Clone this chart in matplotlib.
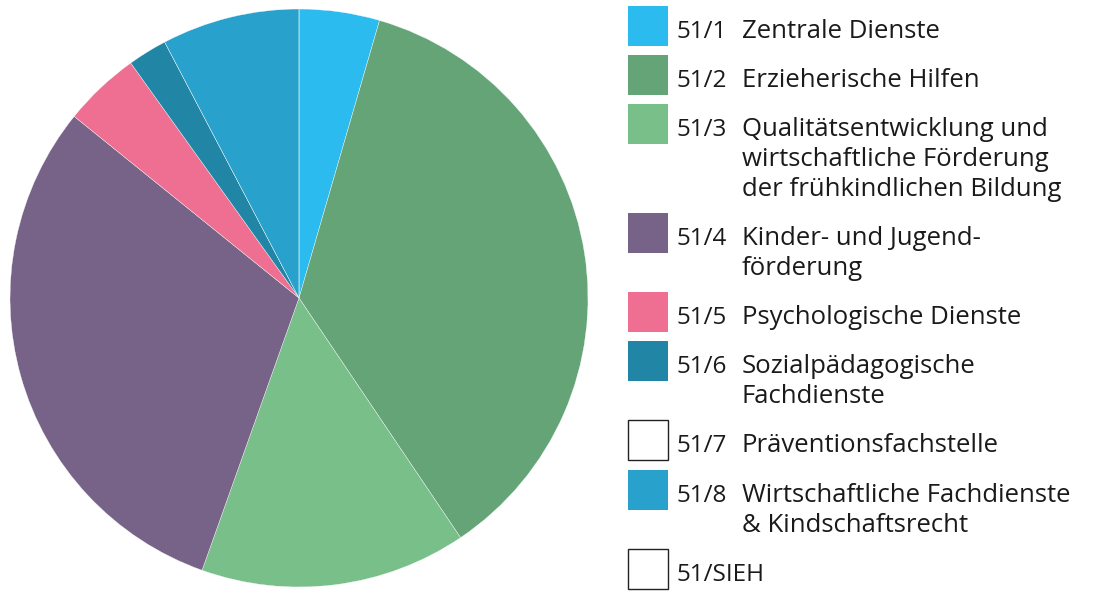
import matplotlib.pyplot as plt
from matplotlib.patches import Rectangle

codes = ['51/1', '51/2', '51/3', '51/4', '51/5', '51/6', '51/7', '51/8', '51/SIEH']
labels = ['Zentrale Dienste',
          'Erzieherische Hilfen',
          'Qualitätsentwicklung und\nwirtschaftliche Förderung\nder frühkindlichen Bildung',
          'Kinder- und Jugend-\nförderung',
          'Psychologische Dienste',
          'Sozialpädagogische\nFachdienste',
          'Präventionsfachstelle',
          'Wirtschaftliche Fachdienste\n& Kindschaftsrecht',
          '']
shares = [4.5, 36.1, 14.9, 30.4, 4.3, 2.2, 0.0, 7.7, 0.0]
colors = ['#2bbbee', '#65a477', '#78bf8a', '#776387', '#ee6f92',
          '#2185a6', '#ffffff', '#28a2cc', '#ffffff']

W, H = 1097, 591
fig = plt.figure(figsize=(W / 100, H / 100), dpi=100)

# pie, pixel box: left 10, top 9, size 578
ax = fig.add_axes([10 / W, 1 - (9 + 578) / H, 578 / W, 578 / H])
ax.pie(shares, colors=colors, startangle=90, counterclock=False, radius=1,
       wedgeprops=dict(edgecolor='white', linewidth=0.25))
ax.set_xlim(-1, 1)
ax.set_ylim(-1, 1)
ax.set_aspect('equal')
ax.axis('off')

# legend drawn by hand
font = 'Open Sans'
fs = 18.5
top = 6
for code, lab, col in zip(codes, labels, colors):
    lines = lab.split('\n') if lab else ['']
    outline = col == '#ffffff'
    fig.add_artist(Rectangle((628 / W, 1 - (top + 40) / H), 40 / W, 40 / H,
                             transform=fig.transFigure,
                             facecolor=col,
                             edgecolor='#222222' if outline else col,
                             linewidth=1.0 if outline else 0))
    base = top + 32
    fig.text(676 / W, 1 - base / H, code, fontsize=17.5, family=font,
             color='#1a1a1a', va='baseline', ha='left')
    for i, ln in enumerate(lines):
        fig.text(742 / W, 1 - (base + 30 * i) / H, ln, fontsize=fs,
                 family=font, color='#1a1a1a', va='baseline', ha='left')
    top += 49 + 30 * (len(lines) - 1) + (1 if outline else 0)

fig.savefig('out.png', dpi=100, facecolor='white')
